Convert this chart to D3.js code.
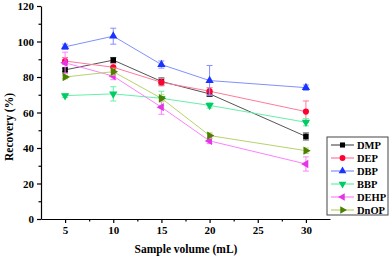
<!DOCTYPE html>
<html>
<head>
<meta charset="utf-8">
<script src="https://cdn.jsdelivr.net/npm/d3@7"></script>
<style>
  body { margin: 0; background: #fff; }
  svg text { font-family: "Liberation Serif", "Times New Roman", serif; font-weight: bold; }
</style>
</head>
<body>
<svg id="chart" width="389" height="258"></svg>
<script>
const volumes = [5, 10, 15, 20, 30];
const seriesNames = ["DMP", "DEP", "DBP", "BBP", "DEHP", "DnOP"];
const dmp = [84, 89.5, 77.5, 70.5, 46.5];
const dep = [89, 85.5, 77, 72, 60.5];
const dbp = [97, 103, 87, 78, 74];
const bbp = [69.5, 70.5, 68, 64, 54.5];
const dehp = [88, 80.5, 63, 44, 31];
const dnop = [80, 83, 68, 47, 38.5];
const dmpErr = [1, 1.5, 2, 1.5, 2];
const depErr = [2, 2, 2, 2, 6];
const dbpErr = [1.5, 4.5, 2, 8.5, 1.5];
const bbpErr = [1, 4, 4, 1.5, 2];
const dehpErr = [6, 2, 4, 1.5, 4];
const dnopErr = [1, 2, 2, 1.5, 1.5];
const xTicks = [5, 10, 15, 20, 25, 30];
const yTicks = [0, 20, 40, 60, 80, 100, 120];

const values = [dmp, dep, dbp, bbp, dehp, dnop];
const errors = [dmpErr, depErr, dbpErr, bbpErr, dehpErr, dnopErr];
const markColors = ["#000000", "#ff0033", "#1a33ff", "#00cc66", "#e633e6", "#4d8000"];
const lineColors = ["#555555", "#ff7a9c", "#8090ff", "#66f0a8", "#ff80ff", "#b5d46a"];
// square, circle, up, down, left, right
const shapes = [
  { type: d3.symbolSquare, rot: 0 },
  { type: d3.symbolCircle, rot: 0 },
  { type: d3.symbolTriangle, rot: 0 },
  { type: d3.symbolTriangle, rot: 180 },
  { type: d3.symbolTriangle, rot: -90 },
  { type: d3.symbolTriangle, rot: 90 },
];

const svg = d3.select("#chart");
const x = d3.scaleLinear().domain([2.5, 32.5]).range([41, 330]);
const y = d3.scaleLinear().domain([0, 120]).range([219, 6]);

// axes
const xAxis = d3.axisBottom(x).tickValues(xTicks).tickSize(4).tickSizeOuter(0);
const gx = svg.append("g").attr("transform", "translate(0,219)").call(xAxis);
gx.selectAll("text").attr("font-size", 11).attr("fill", "#000");
svg.append("g").attr("transform", "translate(0,219)")
  .call(d3.axisBottom(x).tickValues(d3.range(7.5, 32.5, 5)).tickSize(2.5).tickFormat("").tickSizeOuter(0))
  .select(".domain").remove();

const yAxis = d3.axisLeft(y).tickValues(yTicks).tickSize(4).tickSizeOuter(0);
const gy = svg.append("g").attr("transform", "translate(41,0)").call(yAxis);
gy.selectAll("text").attr("font-size", 11).attr("fill", "#000");
svg.append("g").attr("transform", "translate(41,0)")
  .call(d3.axisLeft(y).tickValues(d3.range(10, 120, 20)).tickSize(2.5).tickFormat("").tickSizeOuter(0))
  .select(".domain").remove();
svg.selectAll(".domain, .tick line").attr("stroke", "#000").attr("stroke-width", 1.2);

svg.append("text")
  .attr("transform", "translate(13,127) rotate(-90)")
  .attr("text-anchor", "middle")
  .attr("font-size", 11.5)
  .text("Recovery (%)");
svg.append("text")
  .attr("x", 186).attr("y", 253)
  .attr("text-anchor", "middle")
  .attr("font-size", 11.5)
  .text("Sample volume (mL)");

const line = d3.line().x((d) => x(d.v)).y((d) => y(d.r));
const symbol = d3.symbol().size(30);

seriesNames.forEach((name, s) => {
  const pts = volumes.map((v, i) => ({ v, r: values[s][i], e: errors[s][i] }));
  const g = svg.append("g");
  g.append("path").datum(pts)
    .attr("d", line).attr("fill", "none")
    .attr("stroke", lineColors[s]).attr("stroke-width", 1);
  const eb = g.selectAll(".err").data(pts).join("g").attr("stroke", lineColors[s]).attr("stroke-width", 1);
  eb.append("line")
    .attr("x1", (d) => x(d.v)).attr("x2", (d) => x(d.v))
    .attr("y1", (d) => y(d.r - d.e)).attr("y2", (d) => y(d.r + d.e));
  [1, -1].forEach((sg) => {
    eb.append("line")
      .attr("x1", (d) => x(d.v) - 3).attr("x2", (d) => x(d.v) + 3)
      .attr("y1", (d) => y(d.r + sg * d.e)).attr("y2", (d) => y(d.r + sg * d.e));
  });
  g.selectAll(".mk").data(pts).join("path")
    .attr("d", symbol.type(shapes[s].type))
    .attr("transform", (d) => `translate(${x(d.v)},${y(d.r)}) rotate(${shapes[s].rot})`)
    .attr("fill", markColors[s]);
});

// legend
const legend = svg.append("g");
legend.append("rect")
  .attr("x", 327).attr("y", 137).attr("width", 61).attr("height", 78)
  .attr("fill", "#fff").attr("stroke", "#444").attr("stroke-width", 1);
seriesNames.forEach((name, s) => {
  const ly = 145 + s * 13;
  legend.append("line")
    .attr("x1", 331).attr("x2", 354).attr("y1", ly).attr("y2", ly)
    .attr("stroke", lineColors[s]).attr("stroke-width", 1.2);
  legend.append("path")
    .attr("d", d3.symbol().size(26).type(shapes[s].type)())
    .attr("transform", `translate(342.5,${ly}) rotate(${shapes[s].rot})`)
    .attr("fill", markColors[s]);
  legend.append("text")
    .attr("x", 357).attr("y", ly).attr("dy", "0.35em")
    .attr("font-size", 10.5)
    .text(name);
});
</script>
</body>
</html>
